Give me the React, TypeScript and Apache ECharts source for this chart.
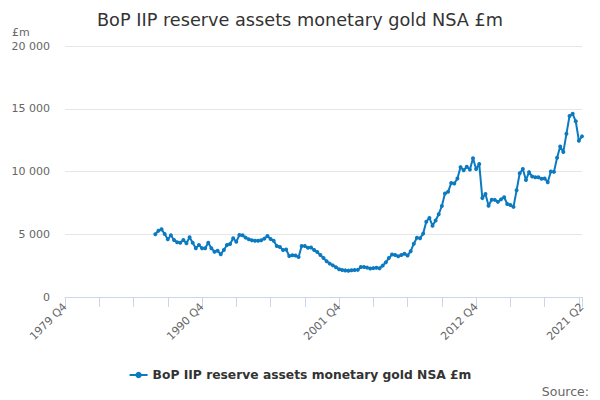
import React, { useEffect, useRef } from "react";
import * as echarts from "echarts";

const TITLE = "BoP IIP reserve assets monetary gold NSA £m";
const SERIES_NAME = "BoP IIP reserve assets monetary gold NSA £m";
const FIRST_YEAR = 1979;
const FIRST_QUARTER = 4;
const QUARTER_COUNT = 167; // 1979 Q4 .. 2021 Q2
const DATA_START_INDEX = 29; // 1987 Q1

const goldValues: number[] = [
  5000, 5280, 5390, 5020, 4600, 4920, 4540, 4360, 4330, 4540,
  4280, 4760, 4330, 3880, 4140, 3880, 3880, 4330, 3880, 3610,
  3690, 3400, 3750, 4140, 4220, 4680, 4410, 4940, 4920, 4730,
  4600, 4530, 4490, 4490, 4520, 4650, 4860, 4620, 4490, 4060,
  3980, 3750, 3780, 3270, 3330, 3300, 3180, 4060, 4060, 3920,
  3950, 3740, 3580, 3350, 3100, 2850, 2660, 2520, 2370, 2210,
  2150, 2120, 2100, 2130, 2150, 2160, 2390, 2390, 2340, 2270,
  2300, 2330, 2290, 2500, 2760, 3100, 3390, 3350, 3240, 3350,
  3450, 3300, 3650, 4250, 4720, 4680, 5050, 6000, 6300, 5680,
  6100, 6600, 7250, 8250, 8380, 9080, 9050, 9450, 10350, 10100,
  10380, 10150, 11050, 10200, 10600, 7880, 8200, 7270, 7750, 7740,
  7580, 7780, 7950, 7410, 7330, 7180, 8500, 9860, 10200, 9320,
  9950, 9600, 9550, 9540, 9420, 9450, 9150, 10000, 9970, 11100,
  12000, 11550, 13000, 14430, 14600, 14000, 12450, 12800,
];

const yTicks = { min: 0, max: 20000, interval: 5000 };

function buildCategories(): string[] {
  const out: string[] = [];
  let y = FIRST_YEAR;
  let q = FIRST_QUARTER;
  for (let i = 0; i < QUARTER_COUNT; i++) {
    out.push(`${y} Q${q}`);
    q++;
    if (q > 4) {
      q = 1;
      y++;
    }
  }
  return out;
}

export default function App() {
  const ref = useRef<HTMLDivElement>(null);
  useEffect(() => {
    if (!ref.current) return;
    const chart = echarts.init(ref.current, undefined, { renderer: "svg" });
    const categories = buildCategories();
    const last = categories.length - 1;
    const seriesData: (number | null)[] = categories.map((_, i) =>
      i < DATA_START_INDEX ? null : goldValues[i - DATA_START_INDEX] ?? null
    );
    const font = "DejaVu Sans, Verdana, sans-serif";
    chart.setOption({
      animation: false,
      textStyle: { fontFamily: font },
      title: {
        text: TITLE,
        left: "center",
        top: 6,
        textStyle: { fontFamily: font, fontSize: 17.7, fontWeight: "normal", color: "#333333" },
      },
      graphic: [
        {
          type: "text",
          x: 12,
          y: 32,
          style: {
            text: "£m",
            fontFamily: font,
            fontSize: 11,
            fill: "#666666",
            align: "left",
            verticalAlign: "middle",
          },
        },
        {
          type: "text",
          x: 589,
          y: 391,
          style: {
            text: "Source:",
            fontFamily: font,
            fontSize: 12.5,
            fill: "#666666",
            align: "right",
            verticalAlign: "middle",
          },
        },
      ],
      legend: {
        top: 364,
        left: "center",
        itemWidth: 18,
        itemHeight: 8,
        itemGap: 6,
        textStyle: { fontFamily: font, fontSize: 12.3, fontWeight: "bold", color: "#333333" },
        data: [SERIES_NAME],
      },
      grid: { left: 65, right: 18, top: 46, bottom: 103, containLabel: false },
      xAxis: {
        type: "category",
        data: categories,
        boundaryGap: false,
        axisLine: { lineStyle: { color: "#ccd6eb" } },
        axisTick: {
          length: 10,
          lineStyle: { color: "#ccd6eb" },
          interval: (i: number) => i % 11 === 0 || i === last,
        },
        axisLabel: {
          rotate: 45,
          fontFamily: font,
          fontSize: 11,
          color: "#666666",
          margin: 8,
          interval: (i: number) => i % 44 === 0 || i === last,
          showMaxLabel: true,
        },
        splitLine: { show: false },
      },
      yAxis: {
        type: "value",
        min: yTicks.min,
        max: yTicks.max,
        interval: yTicks.interval,
        axisLine: { show: false },
        axisTick: { show: false },
        axisLabel: {
          fontFamily: font,
          fontSize: 11,
          color: "#666666",
          margin: 15,
          formatter: (v: number) =>
            String(v).replace(/\B(?=(\d{3})+(?!\d))/g, " "),
        },
        splitLine: { lineStyle: { color: "#e6e6e6" } },
      },
      series: [
        {
          name: SERIES_NAME,
          type: "line",
          data: seriesData,
          connectNulls: false,
          symbol: "circle",
          symbolSize: 4,
          showSymbol: true,
          showAllSymbol: true,
          lineStyle: { color: "#0b7ac0", width: 2 },
          itemStyle: { color: "#0b7ac0" },
        },
      ],
    });
    return () => chart.dispose();
  }, []);
  return (
    <div
      ref={ref}
      style={{ position: "absolute", left: 0, top: 0, width: 600, height: 400 }}
    />
  );
}
